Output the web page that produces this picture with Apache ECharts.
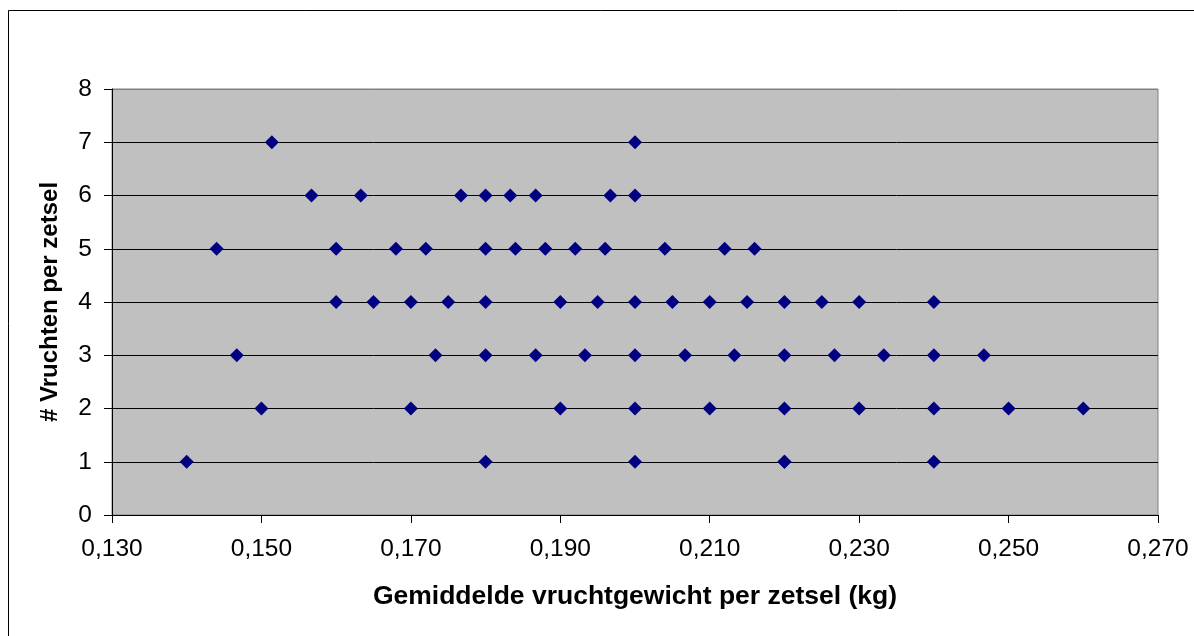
<!DOCTYPE html>
<html>
<head>
<meta charset="utf-8">
<script src="https://cdn.jsdelivr.net/npm/echarts@6/dist/echarts.min.js"></script>
<style>
html,body{margin:0;padding:0;background:#fff;}
#chart{width:1194px;height:636px;}
</style>
</head>
<body>
<div id="chart"></div>
<script>
// Data
const weights = [
  // 1 vrucht
  0.140, 0.180, 0.200, 0.220, 0.220, 0.240,
  // 2 vruchten
  0.150, 0.170, 0.190, 0.200, 0.210, 0.220, 0.230, 0.240, 0.250, 0.260,
  // 3 vruchten
  0.1467, 0.1733, 0.180, 0.1867, 0.1933, 0.200, 0.2067, 0.2133, 0.220, 0.2267, 0.2333, 0.240, 0.2467,
  // 4 vruchten
  0.160, 0.165, 0.170, 0.175, 0.180, 0.190, 0.195, 0.200, 0.205, 0.210, 0.215, 0.220, 0.225, 0.230, 0.240,
  // 5 vruchten
  0.144, 0.160, 0.168, 0.172, 0.180, 0.184, 0.188, 0.192, 0.196, 0.204, 0.212, 0.216,
  // 6 vruchten
  0.1567, 0.1633, 0.1767, 0.180, 0.1833, 0.1867, 0.1967, 0.200,
  // 7 vruchten
  0.1514, 0.200
];
const counts = [
  1, 1, 1, 1, 1, 1,
  2, 2, 2, 2, 2, 2, 2, 2, 2, 2,
  3, 3, 3, 3, 3, 3, 3, 3, 3, 3, 3, 3, 3,
  4, 4, 4, 4, 4, 4, 4, 4, 4, 4, 4, 4, 4, 4, 4,
  5, 5, 5, 5, 5, 5, 5, 5, 5, 5, 5, 5,
  6, 6, 6, 6, 6, 6, 6, 6,
  7, 7
];
const xTickLabels = ['0,130', '0,150', '0,170', '0,190', '0,210', '0,230', '0,250', '0,270'];
const yTickLabels = ['0', '1', '2', '3', '4', '5', '6', '7', '8'];
const xTitle = 'Gemiddelde vruchtgewicht per zetsel (kg)';
const yTitle = '# Vruchten per zetsel';

const points = weights.map((w, i) => [w, counts[i]]);
const FONT = '"Liberation Sans", Arial, sans-serif';

const chart = echarts.init(document.getElementById('chart'), null, {renderer: 'canvas'});
chart.setOption({
  animation: false,
  backgroundColor: '#ffffff',
  graphic: [{
    type: 'rect',
    shape: {x: 8.5, y: 10.5, width: 1400, height: 800},
    style: {fill: 'none', stroke: '#000', lineWidth: 1},
    silent: true,
    z: -10
  }],
  grid: {
    left: 112, top: 89, right: 36, bottom: 121,
    show: true,
    backgroundColor: '#C0C0C0',
    borderColor: '#808080',
    borderWidth: 1
  },
  xAxis: {
    type: 'value',
    min: 0.13, max: 0.27, interval: 0.02,
    name: xTitle,
    nameLocation: 'middle',
    nameGap: 68,
    nameTextStyle: {fontFamily: FONT, fontSize: 26.5, fontWeight: 'bold', color: '#000'},
    axisLine: {show: true, onZero: false, lineStyle: {color: '#000', width: 1}},
    axisTick: {show: true, inside: false, length: 8, lineStyle: {color: '#000'}},
    axisLabel: {
      margin: 22, fontFamily: FONT, fontSize: 24.5, color: '#000',
      formatter: (v, i) => xTickLabels[i] !== undefined ? xTickLabels[i] : ''
    },
    splitLine: {show: false}
  },
  yAxis: {
    type: 'value',
    min: 0, max: 8, interval: 1,
    name: yTitle,
    nameLocation: 'middle',
    nameGap: 50,
    nameRotate: 90,
    nameTextStyle: {fontFamily: FONT, fontSize: 24, fontWeight: 'bold', color: '#000'},
    axisLine: {show: true, lineStyle: {color: '#000', width: 1}},
    axisTick: {show: true, inside: false, length: 8, lineStyle: {color: '#000'}},
    axisLabel: {
      margin: 20, fontFamily: FONT, fontSize: 24.5, color: '#000',
      formatter: (v, i) => yTickLabels[i] !== undefined ? yTickLabels[i] : ''
    },
    splitLine: {
      show: true,
      lineStyle: {color: ['#000', '#000', '#000', '#000', '#000', '#000', '#000', '#000', '#808080'], width: 1}
    }
  },
  series: [{
    type: 'scatter',
    data: points,
    symbol: 'diamond',
    symbolSize: 14,
    itemStyle: {color: '#000080', opacity: 1},
    z: 5
  }]
});
</script>
</body>
</html>
